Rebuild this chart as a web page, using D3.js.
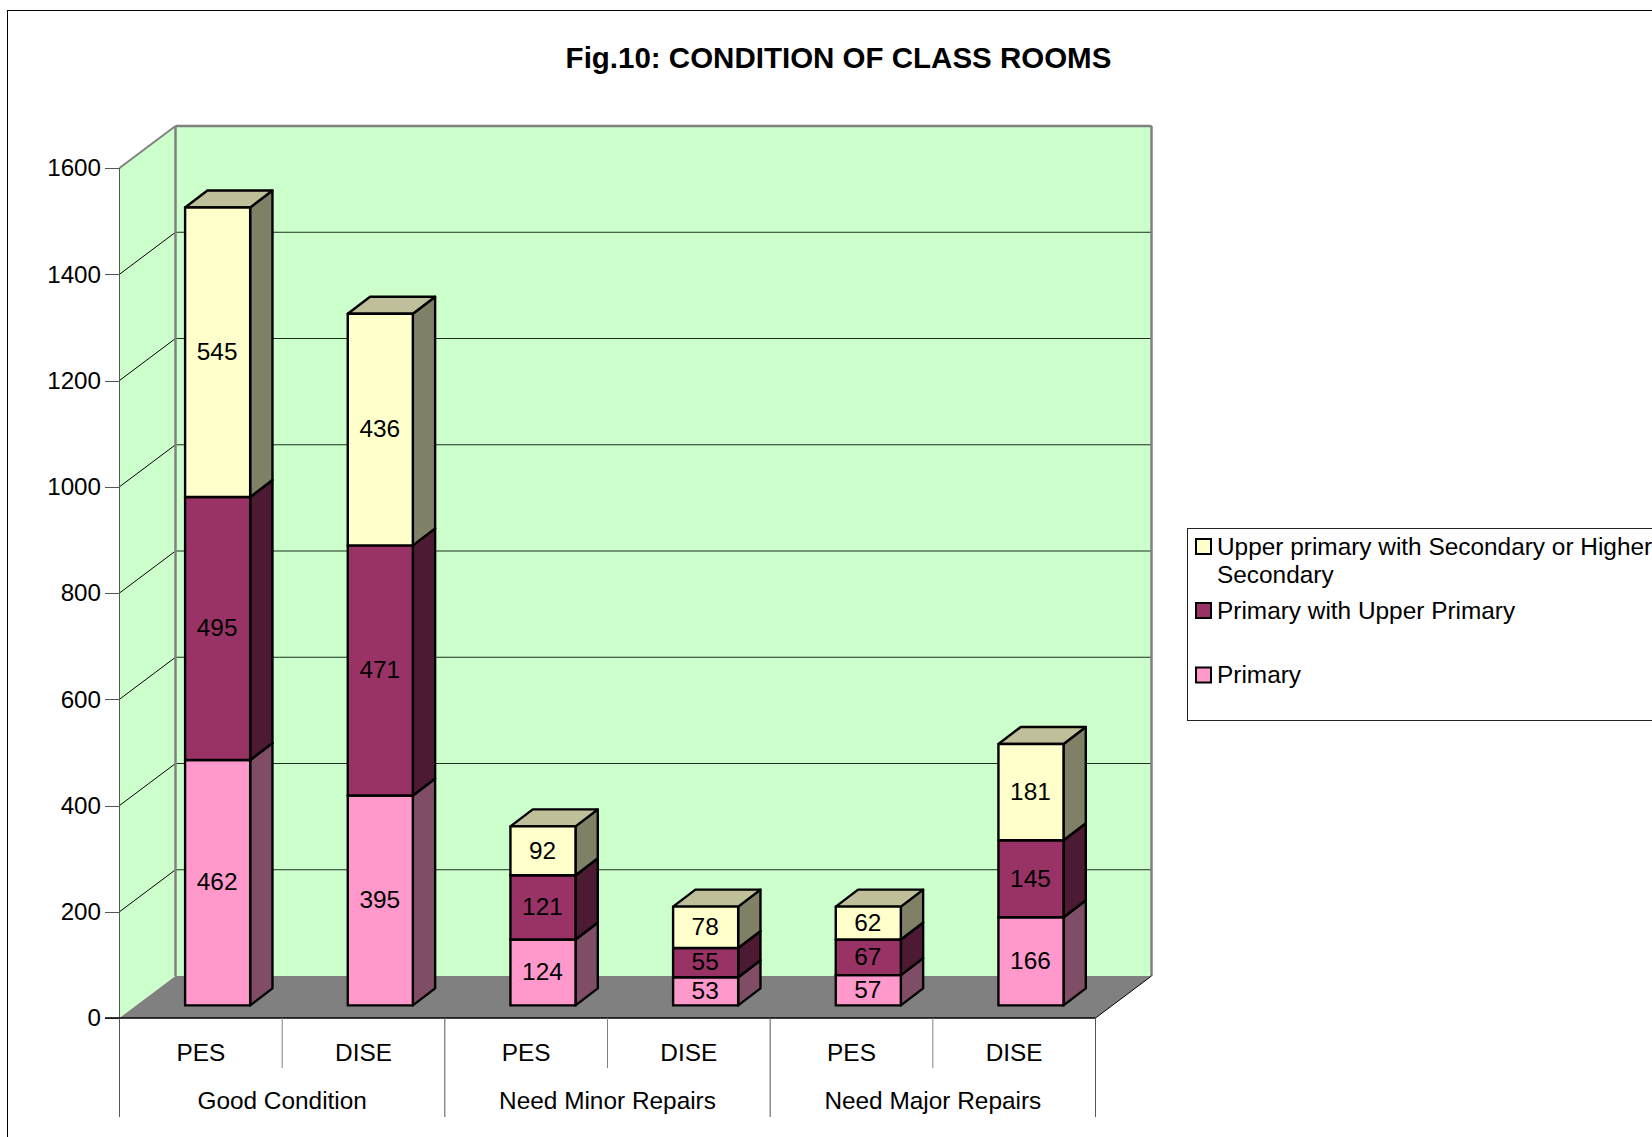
<!DOCTYPE html>
<html>
  <head>
    <title>Fig.10: Condition of class rooms</title>
    <script src="https://d3js.org/d3.v7.min.js"></script>
    <style>
     body { margin: 0; background: #fff; }
     svg { display: block; }
     text { font-family: "Liberation Sans", Arial, sans-serif; fill: #000; }
     .axis path { display: none; }
     .axis line { stroke: #555; stroke-width: 1; shape-rendering: crispEdges; }
     .axis text { font-size: 24.2px; }
    </style>
  </head>
  <body>
    <svg id="chart" width="1652" height="1137"></svg>
    <script>
     var bars = ["PES", "DISE", "PES", "DISE", "PES", "DISE"];
     var groups = ["Good Condition", "Need Minor Repairs", "Need Major Repairs"];
     var primary = [462, 395, 124, 53, 57, 166];
     var primaryUpper = [495, 471, 121, 55, 67, 145];
     var upperSecondary = [545, 436, 92, 78, 62, 181];
     var yTicks = [0, 200, 400, 600, 800, 1000, 1200, 1400, 1600];
     var seriesNames = ["Primary", "Primary with Upper Primary", "Upper primary with Secondary or Higher Secondary"];
     var seriesFill = ["#FF99CC", "#993366", "#FFFFCC"];
     var seriesSide = ["#804D66", "#4D1A33", "#808066"];
     var seriesTop = ["#BF7399", "#73264D", "#BFBF99"];

     // depth of the box and of each bar, in px
     var wall = {dx: 56, dy: -42}, bar = {dx: 22.3, dy: -17, gap: 0.3};

     var svg = d3.select("#chart");
     var xScale = d3.scaleBand().domain(d3.range(bars.length)).range([119.5, 1095.5]);
     var yScale = d3.scaleLinear().domain([0, 1600]).range([1018, 168]);
     var barWidth = xScale.bandwidth() * 0.4;

     function poly(points, fill, stroke, width) {
	 return svg.append("polygon")
		   .attr("points", points.map(function(p) { return p.join(","); }).join(" "))
		   .attr("fill", fill)
		   .attr("stroke", stroke)
		   .attr("stroke-width", width)
		   .attr("stroke-linejoin", "round");
     }
     function seg(x1, y1, x2, y2, color, width) {
	 return svg.append("line")
		   .attr("x1", x1).attr("y1", y1).attr("x2", x2).attr("y2", y2)
		   .attr("stroke", color).attr("stroke-width", width);
     }

     // outer frame runs off the page on the right and bottom
     svg.append("rect")
	.attr("x", 7.5).attr("y", 10.5).attr("width", 1800).attr("height", 1300)
	.attr("fill", "#fff").attr("stroke", "#000").attr("stroke-width", 1);

     svg.append("text")
	.attr("x", 838.5).attr("y", 67.5)
	.attr("text-anchor", "middle")
	.style("font-size", "29.5px").style("font-weight", "bold")
	.text("Fig.10: CONDITION OF CLASS ROOMS");

     // walls and floor
     var x0 = xScale.range()[0], x1 = xScale.range()[1], yBot = yScale(0), yTop = yScale(1600);
     poly([[x0, yBot], [x0 + wall.dx, yBot + wall.dy], [x0 + wall.dx, yTop + wall.dy], [x0, yTop]], "#CCFFCC", "none", 0);
     poly([[x0 + wall.dx, yBot + wall.dy], [x1 + wall.dx, yBot + wall.dy], [x1 + wall.dx, yTop + wall.dy], [x0 + wall.dx, yTop + wall.dy]], "#CCFFCC", "none", 0);

     yTicks.slice(1, -1).forEach(function(t) {
	 seg(x0, yScale(t), x0 + wall.dx, yScale(t) + wall.dy, "#000", 1);
	 seg(x0 + wall.dx, yScale(t) + wall.dy, x1 + wall.dx, yScale(t) + wall.dy, "#1e301e", 1);
     });
     seg(x0, yTop, x0 + wall.dx, yTop + wall.dy, "#808080", 2);
     seg(x0 + wall.dx, yTop + wall.dy, x1 + wall.dx, yTop + wall.dy, "#808080", 2.5);
     seg(x0 + wall.dx, yTop + wall.dy, x0 + wall.dx, yBot + wall.dy, "#808080", 2.5);
     seg(x1 + wall.dx, yTop + wall.dy, x1 + wall.dx, yBot + wall.dy, "#808080", 2.5);
     poly([[x0, yBot], [x1, yBot], [x1 + wall.dx, yBot + wall.dy], [x0 + wall.dx, yBot + wall.dy]], "#808080", "none", 0);
     seg(x1, yBot, x1 + wall.dx, yBot + wall.dy, "#000", 1);

     // stacked bars
     var stacked = d3.stack().keys([0, 1, 2]).value(function(d, k) { return d[k]; })(
	 bars.map(function(b, i) { return [primary[i], primaryUpper[i], upperSecondary[i]]; }));

     var offX = wall.dx * bar.gap, offY = wall.dy * bar.gap;
     stacked.forEach(function(layer, k) {
	 layer.forEach(function(d, i) {
	     var l = xScale(i) + (xScale.bandwidth() - barWidth) / 2 + offX;
	     var r = l + barWidth;
	     var b = yScale(d[0]) + offY, t = yScale(d[1]) + offY;
	     poly([[r, b], [r + bar.dx, b + bar.dy], [r + bar.dx, t + bar.dy], [r, t]], seriesSide[k], "#000", 2.4);
	     poly([[l, t], [r, t], [r + bar.dx, t + bar.dy], [l + bar.dx, t + bar.dy]], seriesTop[k], "#000", 2.4);
	     poly([[l, b], [r, b], [r, t], [l, t]], seriesFill[k], "#000", 2.4);
	     svg.append("text")
		.attr("x", (l + r) / 2 - 0.5).attr("y", (b + t) / 2)
		.attr("dy", "0.32em")
		.attr("text-anchor", "middle")
		.style("font-size", "24.4px")
		.text(d[1] - d[0]);
	 });
     });

     // axes
     svg.append("g")
	.attr("class", "axis")
	.attr("transform", "translate(" + x0 + ",0)")
	.call(d3.axisLeft(yScale).tickValues(yTicks).tickSize(14.5).tickPadding(4).tickFormat(d3.format("d")));
     seg(x0, yTop, x0, yBot, "#555", 1);
     seg(x0 - 14.5, yBot, x1, yBot, "#000", 1.5);

     var yMid = 1068, yEnd = 1117;
     d3.range(bars.length + 1).forEach(function(i) {
	 var x = x0 + i * xScale.step();
	 seg(x, yBot, x, i % 2 ? yMid : yEnd, i % 2 ? "#808080" : "#555", 1);
     });
     bars.forEach(function(b, i) {
	 svg.append("text")
	    .attr("x", xScale(i) + xScale.bandwidth() / 2).attr("y", 1061)
	    .attr("text-anchor", "middle").style("font-size", "24.4px")
	    .text(b);
     });
     groups.forEach(function(g, i) {
	 svg.append("text")
	    .attr("x", xScale(i * 2 + 1)).attr("y", 1109)
	    .attr("text-anchor", "middle").style("font-size", "24.4px")
	    .text(g);
     });

     // legend, also clipped by the page edge
     svg.append("rect")
	.attr("x", 1187.5).attr("y", 528.5).attr("width", 600).attr("height", 192)
	.attr("fill", "#fff").attr("stroke", "#222").attr("stroke-width", 1);
     var legendRows = [
	 {k: 2, sy: 546.5, lines: [["Upper primary with Secondary or Higher", 555], ["Secondary", 583]]},
	 {k: 1, sy: 610.5, lines: [["Primary with Upper Primary", 619]]},
	 {k: 0, sy: 675, lines: [["Primary", 683]]}
     ];
     legendRows.forEach(function(row) {
	 svg.append("rect")
	    .attr("x", 1196).attr("y", row.sy - 7.5).attr("width", 15).attr("height", 15)
	    .attr("fill", seriesFill[row.k]).attr("stroke", "#000").attr("stroke-width", 2);
	 row.lines.forEach(function(line) {
	     svg.append("text")
		.attr("x", 1217).attr("y", line[1])
		.style("font-size", "24.4px")
		.text(line[0]);
	 });
     });
    </script>
  </body>
</html>
